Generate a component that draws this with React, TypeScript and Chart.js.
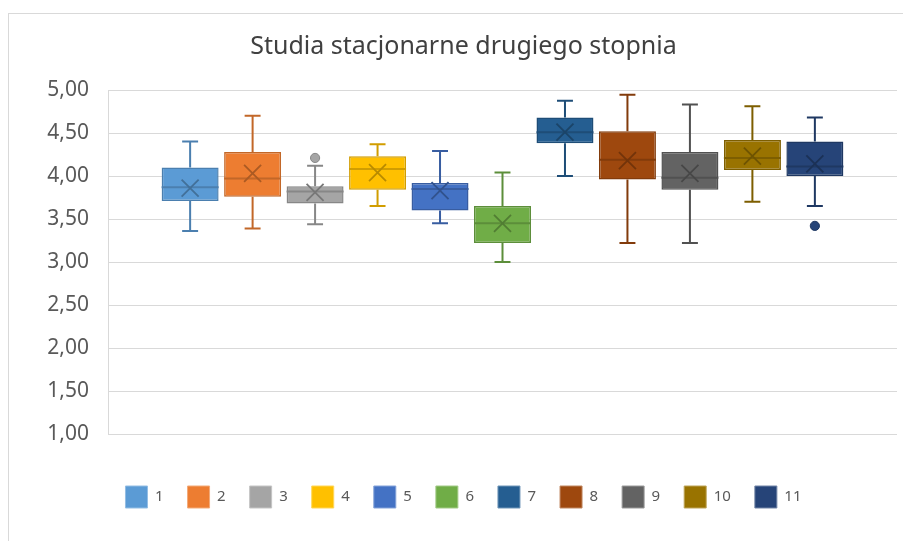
import React, { useEffect, useRef } from "react";
import { Chart, registerables } from "chart.js";

Chart.register(...registerables);

// ---- Data ----
const chartTitle = "Studia stacjonarne drugiego stopnia";
const categories = [""];
const seriesNames = ["1", "2", "3", "4", "5", "6", "7", "8", "9", "10", "11"];
const seriesColors = [
  "#5B9BD5", "#ED7D31", "#A5A5A5", "#FFC000", "#4472C4", "#70AD47",
  "#255E91", "#9E480E", "#636363", "#997300", "#264478",
];
const minValues = [3.36, 3.39, 3.44, 3.65, 3.45, 3.0, 4.0, 3.22, 3.22, 3.7, 3.65];
const q1Values = [3.71, 3.76, 3.68, 3.84, 3.6, 3.22, 4.38, 3.96, 3.84, 4.07, 4.0];
const medianValues = [3.87, 3.97, 3.82, 4.08, 3.85, 3.45, 4.51, 4.19, 3.98, 4.21, 4.11];
const q3Values = [4.1, 4.28, 3.88, 4.23, 3.92, 3.65, 4.68, 4.52, 4.28, 4.42, 4.4];
const maxValues = [4.4, 4.7, 4.12, 4.37, 4.29, 4.04, 4.875, 4.945, 4.83, 4.81, 4.68];
const meanValues = [3.86, 4.03, 3.81, 4.04, 3.83, 3.45, 4.51, 4.18, 4.03, 4.23, 4.14];
const outlierValues: number[][] = [[], [], [4.21], [], [], [], [], [], [], [], [3.42]];
const yMin = 1;
const yMax = 5;
const yStep = 0.5;

function shade(hex: string, f: number): string {
  const n = parseInt(hex.slice(1), 16);
  let r = (n >> 16) & 255, g = (n >> 8) & 255, b = n & 255;
  if (f <= 1) {
    r = Math.round(r * f); g = Math.round(g * f); b = Math.round(b * f);
  } else {
    const t = f - 1;
    r = Math.round(r + (255 - r) * t); g = Math.round(g + (255 - g) * t); b = Math.round(b + (255 - b) * t);
  }
  return `rgb(${r},${g},${b})`;
}

const boxWhiskerPlugin = {
  id: "boxWhisker",
  afterDatasetsDraw(chart: any) {
    const ctx = chart.ctx;
    const ys = chart.scales.y;
    chart.data.datasets.forEach((_ds: any, i: number) => {
      const meta = chart.getDatasetMeta(i);
      if (meta.hidden) return;
      const el = meta.data[0];
      if (!el) return;
      const { x, width } = el.getProps(["x", "width"], true);
      const line = shade(seriesColors[i], 0.82);
      const pMin = ys.getPixelForValue(minValues[i]);
      const pQ1 = ys.getPixelForValue(q1Values[i]);
      const pMed = ys.getPixelForValue(medianValues[i]);
      const pQ3 = ys.getPixelForValue(q3Values[i]);
      const pMax = ys.getPixelForValue(maxValues[i]);
      const pMean = ys.getPixelForValue(meanValues[i]);
      const cap = (width * 0.28) / 2;
      ctx.save();
      ctx.strokeStyle = line;
      ctx.lineWidth = 2;
      ctx.lineCap = "butt";
      ctx.beginPath();
      ctx.moveTo(x, pQ3); ctx.lineTo(x, pMax);
      ctx.moveTo(x, pQ1); ctx.lineTo(x, pMin);
      ctx.moveTo(x - cap, pMax); ctx.lineTo(x + cap, pMax);
      ctx.moveTo(x - cap, pMin); ctx.lineTo(x + cap, pMin);
      ctx.stroke();
      // median
      ctx.beginPath();
      ctx.moveTo(x - width / 2, pMed); ctx.lineTo(x + width / 2, pMed);
      ctx.stroke();
      // mean marker (X)
      const m = 8.5;
      ctx.strokeStyle = shade(seriesColors[i], 0.72);
      ctx.lineWidth = 1.8;
      ctx.beginPath();
      ctx.moveTo(x - m, pMean - m); ctx.lineTo(x + m, pMean + m);
      ctx.moveTo(x - m, pMean + m); ctx.lineTo(x + m, pMean - m);
      ctx.stroke();
      // outliers
      outlierValues[i].forEach((v) => {
        const py = ys.getPixelForValue(v);
        ctx.beginPath();
        ctx.arc(x, py, 4.6, 0, Math.PI * 2);
        ctx.fillStyle = seriesColors[i];
        ctx.fill();
        ctx.lineWidth = 1;
        ctx.strokeStyle = line;
        ctx.stroke();
      });
      ctx.restore();
    });
  },
};

export default function App() {
  const ref = useRef<HTMLCanvasElement | null>(null);

  useEffect(() => {
    if (!ref.current) return;
    const datasets = seriesNames.map((name, i) => ({
      label: name,
      data: [[q1Values[i], q3Values[i]]] as any,
      backgroundColor: seriesColors[i],
      borderColor: shade(seriesColors[i], 0.82),
      borderWidth: 1.5,
      borderSkipped: false,
      categoryPercentage: 0.871,
      barPercentage: 0.912,
    }));
    const chart = new Chart(ref.current, {
      type: "bar",
      data: { labels: categories, datasets },
      options: {
        animation: false,
        responsive: false,
        devicePixelRatio: 1,
        events: [],
        layout: { padding: { left: 21, right: 23, top: 0, bottom: 56 } },
        plugins: {
          tooltip: { enabled: false },
          title: {
            display: true,
            text: chartTitle,
            color: "#404040",
            font: { family: "'Noto Sans', sans-serif", size: 25, weight: "normal" },
            padding: { top: 18, bottom: 28 },
          },
          legend: {
            position: "bottom",
            labels: {
              boxWidth: 22,
              boxHeight: 22,
              padding: 24,
              color: "#595959",
              font: { family: "'Noto Sans', sans-serif", size: 15 },
              generateLabels: (c: any) =>
                c.data.datasets.map((ds: any, i: number) => ({
                  text: ds.label,
                  fillStyle: seriesColors[i],
                  strokeStyle: shade(seriesColors[i], 1.35),
                  lineWidth: 1,
                  hidden: false,
                  datasetIndex: i,
                  fontColor: "#595959",
                })),
            },
          },
        },
        scales: {
          x: {
            display: true,
            grid: { display: false },
            border: { display: false },
            ticks: { display: false },
            afterFit: (s: any) => { s.height = 28; },
          },
          y: {
            min: yMin,
            max: yMax,
            ticks: {
              stepSize: yStep,
              padding: 19,
              color: "#595959",
              font: { family: "'Noto Sans', sans-serif", size: 21 },
              callback: (v: any) => Number(v).toFixed(2).replace(".", ","),
            },
            grid: { color: "#D9D9D9", lineWidth: 1, drawTicks: false },
            border: { display: true, color: "#D9D9D9", width: 1 },
            afterFit: (s: any) => { s.width = 78; },
          },
        },
      },
      plugins: [boxWhiskerPlugin],
    });
    return () => chart.destroy();
  }, []);

  return (
    <div
      style={{
        position: "fixed",
        left: 8,
        top: 13,
        width: 911,
        height: 560,
        border: "1px solid #D9D9D9",
        background: "#fff",
      }}
    >
      <canvas ref={ref} width={911} height={560} style={{ display: "block" }} />
    </div>
  );
}
